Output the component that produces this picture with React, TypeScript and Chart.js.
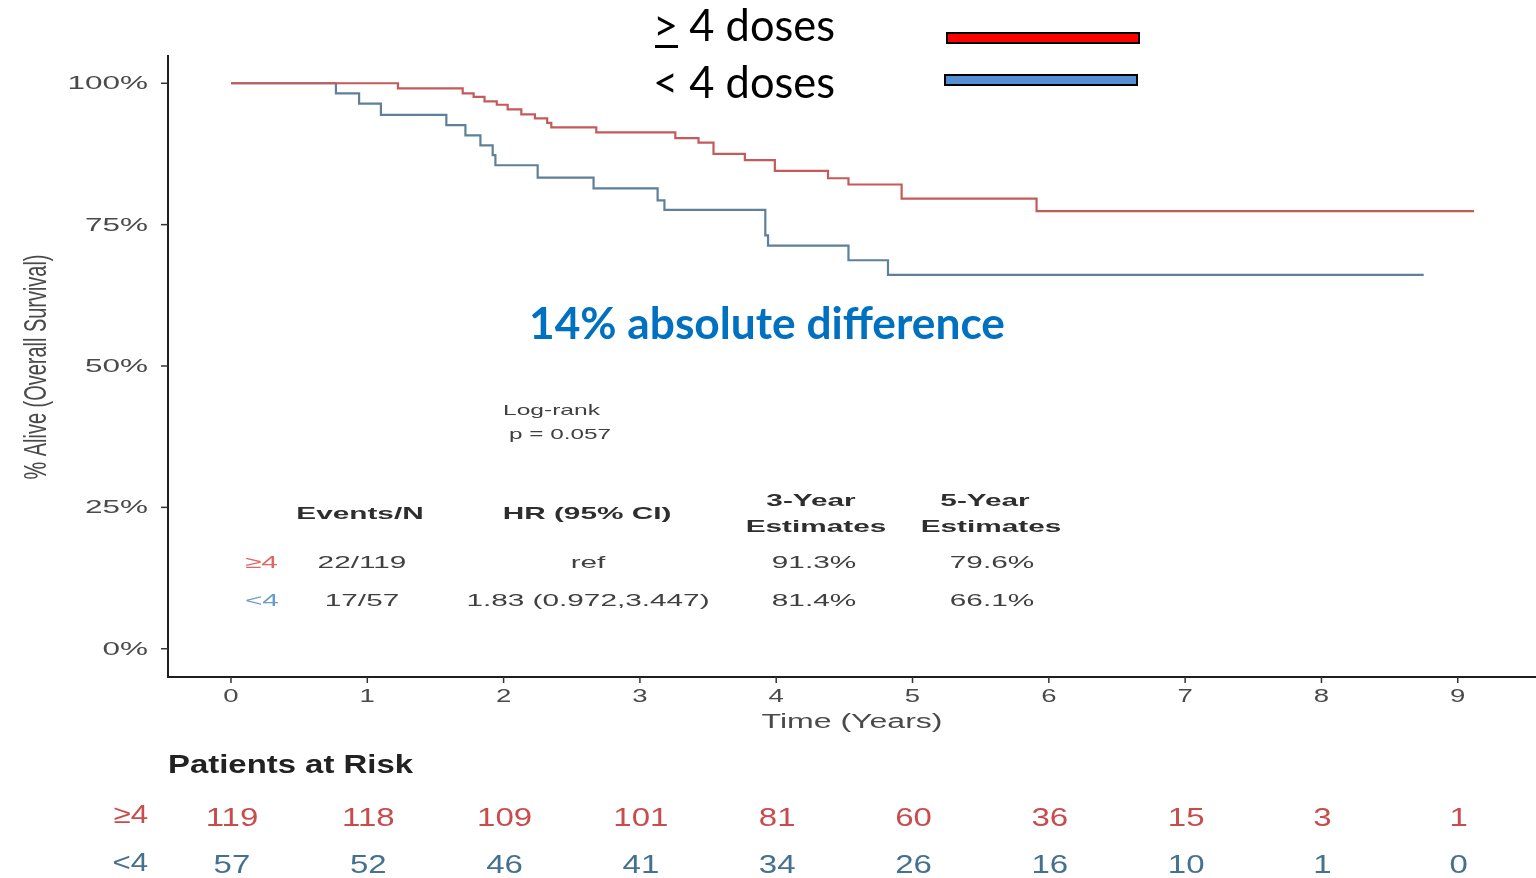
import React, { useEffect, useRef } from "react";
import { Chart, registerables } from "chart.js";

Chart.register(...registerables);

// Kaplan-Meier overall survival by number of doses
const timesGe4 = [0, 1.225, 1.7, 1.78, 1.86, 1.95, 2.03, 2.13, 2.23, 2.32, 2.35, 2.68, 3.26, 3.43, 3.54, 3.77, 3.99, 4.38, 4.53, 4.92, 5.91, 9.12];
const survGe4 = [100, 99.1, 98.2, 97.6, 96.8, 96.2, 95.4, 94.5, 93.8, 93.0, 92.2, 91.3, 90.3, 89.5, 87.5, 86.4, 84.5, 83.2, 82.1, 79.6, 77.4, 77.4];
const timesLt4 = [0, 0.77, 0.94, 1.1, 1.58, 1.72, 1.83, 1.92, 1.94, 2.25, 2.66, 3.13, 3.18, 3.92, 3.94, 4.53, 4.82, 8.75];
const survLt4 = [100, 98.2, 96.4, 94.4, 92.6, 90.8, 89.0, 87.3, 85.5, 83.3, 81.4, 79.3, 77.6, 73.1, 71.3, 68.7, 66.1, 66.1];

const yTicks = [0, 25, 50, 75, 100];
const yTickLabels = ["0%", "25%", "50%", "75%", "100%"];
const xTicks = [0, 1, 2, 3, 4, 5, 6, 7, 8, 9];

// Patients at risk at each year
const atRiskGe4 = [119, 118, 109, 101, 81, 60, 36, 15, 3, 1];
const atRiskLt4 = [57, 52, 46, 41, 34, 26, 16, 10, 1, 0];

// Summary table
const groupLabels = ["≥4", "<4"];
const eventsN = ["22/119", "17/57"];
const hrCI = ["ref", "1.83 (0.972,3.447)"];
const est3Year = ["91.3%", "81.4%"];
const est5Year = ["79.6%", "66.1%"];

const legendLabels = ["> 4 doses", "< 4 doses"];
const annotationText = "14% absolute difference";
const logRankLines = ["Log-rank", "p = 0.057"];

const RED_LINE = "#c45a5a";
const BLUE_LINE = "#5e8099";
const RED_TEXT = "#c84c4c";
const BLUE_TEXT = "#44718f";
const GREY = "#404040";
const TICK_GREY = "#4a4a4a";
const PLOT_FONT = "'Liberation Sans', Arial, sans-serif";
const SLIDE_FONT = "Lato, 'Open Sans', sans-serif";
const STRETCH = 1.75;

type Align = "left" | "center" | "right";

function drawText(
  ctx: CanvasRenderingContext2D,
  s: string,
  x: number,
  y: number,
  font: string,
  color: string,
  align: Align = "left",
  sx = STRETCH,
  width?: number
) {
  ctx.save();
  ctx.font = font;
  ctx.fillStyle = color;
  ctx.textAlign = align;
  ctx.textBaseline = "middle";
  let scaleX = sx;
  if (width) scaleX = width / ctx.measureText(s).width;
  ctx.translate(x, y);
  ctx.scale(scaleX, 1);
  ctx.fillText(s, 0, 0);
  ctx.restore();
}

const decorations = {
  id: "kmDecorations",
  afterDraw(chart: any) {
    const ctx: CanvasRenderingContext2D = chart.ctx;
    const { left, top, right, bottom } = chart.chartArea;
    const xs = chart.scales.x;
    const ys = chart.scales.y;

    // axes
    ctx.save();
    ctx.strokeStyle = "#1e1e1e";
    ctx.lineWidth = 2;
    ctx.beginPath();
    ctx.moveTo(left, top);
    ctx.lineTo(left, bottom);
    ctx.lineTo(right, bottom);
    ctx.stroke();
    ctx.lineWidth = 1.5;
    ctx.strokeStyle = "#333";
    yTicks.forEach((v) => {
      const py = ys.getPixelForValue(v);
      ctx.beginPath();
      ctx.moveTo(left - 7, py);
      ctx.lineTo(left, py);
      ctx.stroke();
    });
    xTicks.forEach((v) => {
      const px = xs.getPixelForValue(v);
      ctx.beginPath();
      ctx.moveTo(px, bottom);
      ctx.lineTo(px, bottom + 6);
      ctx.stroke();
    });
    ctx.restore();

    // tick labels
    yTicks.forEach((v, i) => {
      drawText(ctx, yTickLabels[i], left - 20, ys.getPixelForValue(v) + 1, `18px ${PLOT_FONT}`, TICK_GREY, "right");
    });
    xTicks.forEach((v) => {
      drawText(ctx, String(v), xs.getPixelForValue(v), bottom + 20, `19px ${PLOT_FONT}`, TICK_GREY, "center", 1.45);
    });
    drawText(ctx, "Time (Years)", 852, bottom + 45, `20px ${PLOT_FONT}`, TICK_GREY, "center", 1, 181);

    // y axis title (rotated, tall glyphs)
    ctx.save();
    ctx.font = `18px ${PLOT_FONT}`;
    ctx.fillStyle = TICK_GREY;
    ctx.textAlign = "center";
    ctx.textBaseline = "middle";
    const title = "% Alive (Overall Survival)";
    const tw = ctx.measureText(title).width;
    ctx.translate(37, 367);
    ctx.rotate(-Math.PI / 2);
    ctx.scale(225 / tw, 1.75);
    ctx.fillText(title, 0, 0);
    ctx.restore();

    // log-rank
    drawText(ctx, logRankLines[0], 503, 411, `15px ${PLOT_FONT}`, GREY, "left", 1, 97);
    drawText(ctx, logRankLines[1], 509, 435, `15px ${PLOT_FONT}`, GREY, "left", 1, 102);

    // summary table headers
    const hb = `bold 17px ${PLOT_FONT}`;
    drawText(ctx, "Events/N", 360, 514, hb, "#2e2e2e", "center");
    drawText(ctx, "HR (95% CI)", 587, 514, hb, "#2e2e2e", "center");
    drawText(ctx, "3-Year", 811, 501, hb, "#2e2e2e", "center");
    drawText(ctx, "Estimates", 816, 527, hb, "#2e2e2e", "center");
    drawText(ctx, "5-Year", 985, 501, hb, "#2e2e2e", "center");
    drawText(ctx, "Estimates", 991, 527, hb, "#2e2e2e", "center");
    const rowY = [563, 601];
    const rowColors = ["#e06464", "#6b9bc8"];
    const body = `17px ${PLOT_FONT}`;
    for (let r = 0; r < 2; r++) {
      drawText(ctx, groupLabels[r], 245, rowY[r], body, rowColors[r], "left");
      drawText(ctx, eventsN[r], 362, rowY[r], body, GREY, "center");
      drawText(ctx, hrCI[r], 588, rowY[r], body, GREY, "center");
      drawText(ctx, est3Year[r], 814, rowY[r], body, GREY, "center");
      drawText(ctx, est5Year[r], 992, rowY[r], body, GREY, "center");
    }

    // patients at risk
    drawText(ctx, "Patients at Risk", 168, 766, `bold 26px ${PLOT_FONT}`, "#222", "left", 1, 245);
    drawText(ctx, groupLabels[0], 148, 816, `26px ${PLOT_FONT}`, RED_TEXT, "right", 1.2);
    drawText(ctx, groupLabels[1], 148, 864, `26px ${PLOT_FONT}`, BLUE_TEXT, "right", 1.2);
    xTicks.forEach((v, i) => {
      const px = xs.getPixelForValue(v) + 1;
      drawText(ctx, String(atRiskGe4[i]), px, 819, `25px ${PLOT_FONT}`, RED_TEXT, "center", 1.32);
      drawText(ctx, String(atRiskLt4[i]), px, 866, `25px ${PLOT_FONT}`, BLUE_TEXT, "center", 1.32);
    });

    // legend
    drawText(ctx, legendLabels[0], 653, 27, `44px ${SLIDE_FONT}`, "#000", "left", 1, 182);
    drawText(ctx, legendLabels[1], 653, 84, `44px ${SLIDE_FONT}`, "#000", "left", 1, 182);
    ctx.save();
    ctx.fillStyle = "#000";
    ctx.fillRect(655, 45, 23, 3);
    ctx.lineWidth = 2;
    ctx.strokeStyle = "#000";
    ctx.fillStyle = "#ff0000";
    ctx.fillRect(947, 33, 192, 10);
    ctx.strokeRect(947, 33, 192, 10);
    ctx.fillStyle = "#558ed5";
    ctx.fillRect(945, 75, 192, 10);
    ctx.strokeRect(945, 75, 192, 10);
    ctx.restore();

    // annotation
    drawText(ctx, annotationText, 529, 325, `bold 44px ${SLIDE_FONT}`, "#0070c0", "left", 1, 476);
  },
};

export default function App() {
  const canvasRef = useRef<HTMLCanvasElement | null>(null);

  useEffect(() => {
    const canvas = canvasRef.current;
    if (!canvas) return;
    const chart = new Chart(canvas, {
      type: "line",
      data: {
        datasets: [
          {
            label: "≥4",
            data: timesGe4.map((t, i) => ({ x: t, y: survGe4[i] })),
            borderColor: RED_LINE,
            borderWidth: 2.2,
            pointRadius: 0,
            stepped: true,
            fill: false,
          },
          {
            label: "<4",
            data: timesLt4.map((t, i) => ({ x: t, y: survLt4[i] })),
            borderColor: BLUE_LINE,
            borderWidth: 2.2,
            pointRadius: 0,
            stepped: true,
            fill: false,
          },
        ],
      },
      options: {
        animation: false,
        responsive: false,
        devicePixelRatio: 1,
        layout: { padding: { left: 168, top: 55, right: 0, bottom: 201 } },
        scales: {
          x: { type: "linear", min: -0.462, max: 9.574, display: false },
          y: { min: -5, max: 105, display: false },
        },
        plugins: {
          legend: { display: false },
          tooltip: { enabled: false },
        },
      },
      plugins: [decorations],
    });
    return () => chart.destroy();
  }, []);

  return (
    <div style={{ position: "absolute", left: 0, top: 0, width: 1536, height: 878, background: "#fff" }}>
      <canvas ref={canvasRef} width={1536} height={878} />
    </div>
  );
}
